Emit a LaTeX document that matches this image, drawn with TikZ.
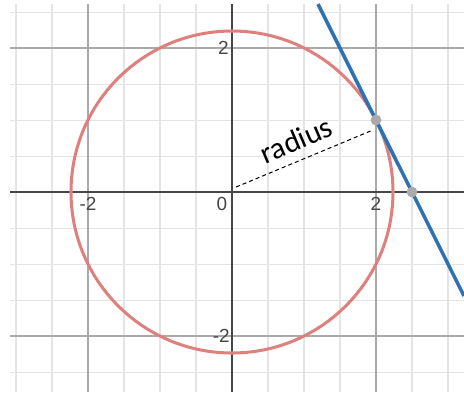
\documentclass[tikz,border=0pt]{standalone}
\usepackage{fontspec}
\setmainfont{Liberation Sans}
\newfontfamily\radfont{Carlito}
\usetikzlibrary{positioning, calc}

\definecolor{circred}{RGB}{221,128,126}
\definecolor{lineblue}{RGB}{45,112,179}
\definecolor{axisgray}{RGB}{70,70,70}
\definecolor{majorgray}{RGB}{170,170,170}
\definecolor{minorgray}{RGB}{228,228,228}
\definecolor{dotgray}{RGB}{170,170,170}

\begin{document}
\begin{tikzpicture}[
  minorgrid/.style={draw=minorgray, line width=0.4pt},
  majorgrid/.style={draw=majorgray, line width=0.6pt},
  axis/.style={draw=axisgray, line width=0.8pt},
  tick/.style={text=axisgray, font=\fontsize{7.5}{8}\selectfont, inner sep=0pt},
  dot/.style={circle, fill=dotgray, inner sep=0pt, minimum size=0.15cm},
  curve/.style={draw=circred, line width=1.2pt},
  tangent/.style={draw=lineblue, line width=1.4pt},
  radline/.style={draw=black, line width=0.4pt, dash pattern=on 1.6pt off 1.2pt}
]
\useasboundingbox (-3.2222,-2.7917) rectangle (3.2222,2.6667);

% --- grid: minor every 0.5, major every 2 ---
\draw[minorgrid] (-3.083,-2.778) grid[step=0.5] (3.2222,2.611);
\draw[majorgrid] (-3.083,-2.778) grid[step=2] (3.2222,2.611);

% --- axes ---
\draw[axis] (-3.083,0) -- (3.2222,0);
\draw[axis] (0,-2.778) -- (0,2.611);

% tick labels
\node[tick] (xm2) at (-2,-0.17) {-2};
\node[tick] (x0)  at (-0.14,-0.17) {0};
\node[tick] (x2)  at (2,-0.17) {2};
\node[tick] (y2)  at (-0.12,2) {2};
\node[tick] (ym2) at (-0.15,-2) {-2};

% --- the circle x^2+y^2=5 ---
\draw[curve] (0,0) circle[radius=2.2361];

% --- tangent line y=-2x+5 ---
\coordinate (ttop) at (1.194,2.611);
\coordinate (tbot) at (3.2222,-1.444);
\draw[tangent] (ttop) -- (tbot);

% points on the line
\node[dot] (touch) at (2,1) {};
\node[dot] (xcut)  at (2.5,0) {};

% --- dashed radius ---
\coordinate (rstart) at (0.056,0.069);
\coordinate (rend)   at (1.958,0.861);
\draw[radline] (rstart) -- (rend);
\node[rotate=23, inner sep=0pt, font=\radfont\fontsize{12}{14}\selectfont] (radlabel) at (0.89,0.72) {radius};

\end{tikzpicture}
\end{document}
